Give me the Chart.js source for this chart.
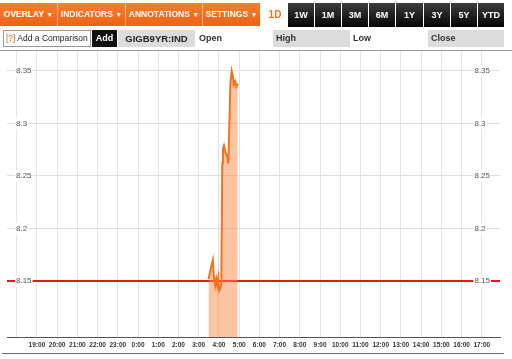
<!DOCTYPE html>
<html>
<head>
<meta charset="utf-8">
<script src="https://cdn.jsdelivr.net/npm/chart.js@4.4.0/dist/chart.umd.min.js"></script>
<style>
  body { margin:0; width:512px; height:359px; overflow:hidden; background:#fff; position:relative;
         font-family:"Liberation Sans", Arial, sans-serif; }
  canvas { position:absolute; left:0; top:0; }
  .ui { position:absolute; z-index:2; box-sizing:border-box; white-space:nowrap; }
  .o { top:3px; height:23px; line-height:23px; background:linear-gradient(#f87d30,#ee6214);
       color:#fff; font-weight:bold; font-size:8.5px; text-align:center; border-right:1px solid #f9b58d; }
  .o span { font-size:7px; }
  .k { top:3px; height:24px; line-height:24px; background:linear-gradient(#3c3c3c,#050505);
       color:#fff; font-weight:bold; font-size:9px; text-align:center; }
  .r2 { top:30px; height:17px; line-height:17px; font-size:9px; font-weight:bold; color:#333; }
  .g { background:#dcdcdc; }
  .line { position:absolute; z-index:2; height:1px; background:#777; }
</style>
</head>
<body>
<div class="ui o" style="left:0;width:58px">OVERLAY <span>▼</span></div>
<div class="ui o" style="left:58px;width:68px">INDICATORS <span>▼</span></div>
<div class="ui o" style="left:126px;width:77px">ANNOTATIONS <span>▼</span></div>
<div class="ui o" style="left:203px;width:57px;border-right:none">SETTINGS <span>▼</span></div>
<div class="ui" style="left:262px;top:3px;width:26px;height:23px;line-height:23px;text-align:center;color:#f0731e;font-size:10px;font-weight:bold">1D</div>
<div class="ui k" style="left:288px;width:26px">1W</div>
<div class="ui k" style="left:315px;width:26px">1M</div>
<div class="ui k" style="left:342px;width:26px">3M</div>
<div class="ui k" style="left:369px;width:26px">6M</div>
<div class="ui k" style="left:396px;width:27px">1Y</div>
<div class="ui k" style="left:424px;width:26px">3Y</div>
<div class="ui k" style="left:451px;width:26px">5Y</div>
<div class="ui k" style="left:478px;width:26px">YTD</div>

<div class="ui r2" style="left:3px;width:88px;border:1px solid #999;font-weight:normal;font-size:8.5px;line-height:15px;padding-left:2px;color:#222">
  <span style="color:#e0691e">[?]</span> Add a Comparison</div>
<div class="ui r2" style="left:92px;width:25px;background:#111;color:#fff;text-align:center">Add</div>
<div class="ui r2 g" style="left:118px;width:77px;text-align:center;font-size:9.5px;color:#222">GIGB9YR:IND</div>
<div class="ui r2" style="left:199px;width:50px">Open</div>
<div class="ui r2 g" style="left:273px;width:77px;padding-left:3px">High</div>
<div class="ui r2" style="left:353px;width:50px">Low</div>
<div class="ui r2 g" style="left:428px;width:76px;padding-left:3px">Close</div>

<div class="line" style="left:0;top:50px;width:512px;background:#999"></div>
<div class="line" style="left:2px;top:353px;width:502px;background:#666"></div>

<canvas id="chartCanvas" width="512" height="359"></canvas>

<script>
// x axis: hours counted from 18:00 of the previous day
const hourLabels = ["", "19:00", "20:00", "21:00", "22:00", "23:00", "0:00", "1:00", "2:00", "3:00",
  "4:00", "5:00", "6:00", "7:00", "8:00", "9:00", "10:00", "11:00", "12:00", "13:00",
  "14:00", "15:00", "16:00", "17:00"];
const yTickValues = [8.15, 8.2, 8.25, 8.3, 8.35];

// GIGB9YR:IND intraday yield
const times = ["03:29", "03:38", "03:42", "03:45", "03:49", "03:52", "03:55", "03:58", "04:01", "04:04",
  "04:07", "04:10", "04:12", "04:15", "04:20", "04:25", "04:28", "04:31", "04:34", "04:38",
  "04:41", "04:44", "04:48", "04:52", "04:56"];
const yields = [8.152, 8.165, 8.170, 8.154, 8.146, 8.152, 8.146, 8.153, 8.141, 8.143,
  8.146, 8.262, 8.276, 8.279, 8.272, 8.268, 8.262, 8.300, 8.338, 8.350,
  8.346, 8.337, 8.340, 8.335, 8.338];
const prevClose = 8.15;

const xMin = -0.48, xMax = 23.9;
const yMin = 8.0967, yMax = 8.369;

function toPos(t) {
  const [h, m] = t.split(":").map(Number);
  let v = h + m / 60 - 18;
  if (v < 0) v += 24;
  return v;
}

const linePoints = times.map((t, i) => ({ x: toPos(t), y: yields[i] }));
const closePoints = [{ x: xMin, y: prevClose }, { x: xMax, y: prevClose }];

const yTicks = s => { s.ticks = yTickValues.map(v => ({ value: v })); };
const labelFont = { family: "Liberation Sans", size: 8 };

new Chart(document.getElementById("chartCanvas"), {
  type: "line",
  data: {
    datasets: [{
      data: linePoints,
      borderColor: "#f0741f",
      borderWidth: 2,
      backgroundColor: "rgba(248,140,70,0.5)",
      fill: "start",
      pointRadius: 0,
      tension: 0,
      order: 0
    }, {
      data: closePoints,
      borderColor: "#d91c1c",
      borderWidth: 2,
      pointRadius: 0,
      fill: false,
      order: 1
    }]
  },
  options: {
    responsive: false,
    animation: false,
    layout: { padding: { top: 51, left: 7, right: 12, bottom: 0 } },
    plugins: { legend: { display: false }, tooltip: { enabled: false } },
    scales: {
      x: {
        type: "linear", min: xMin, max: xMax,
        afterBuildTicks: s => { s.ticks = hourLabels.map((l, i) => ({ value: i })); },
        afterFit: s => { s.height = 22; },
        grid: { color: "#e4e4e4", drawTicks: false },
        border: { display: true, color: "#555" },
        ticks: {
          callback: (v, i) => hourLabels[i],
          autoSkip: false, maxRotation: 0, padding: 4, color: "#333",
          font: { family: "Liberation Sans", size: 6.5, weight: "bold" }
        }
      },
      y: {
        type: "linear", min: yMin, max: yMax,
        afterBuildTicks: yTicks,
        afterFit: s => { s.width = 0; },
        grid: { color: "#e0e0e0", drawTicks: false },
        border: { display: false },
        ticks: { display: false }
      },
      yl: {
        type: "linear", position: "left", min: yMin, max: yMax,
        afterBuildTicks: yTicks,
        afterFit: s => { s.width = 0; },
        grid: { display: false, drawTicks: false },
        border: { display: false },
        ticks: {
          z: 1, mirror: true, padding: 9, showLabelBackdrop: true, backdropColor: "#fff",
          backdropPadding: 1, color: "#555", font: labelFont, callback: v => String(v)
        }
      },
      yr: {
        type: "linear", position: "right", min: yMin, max: yMax,
        afterBuildTicks: yTicks,
        afterFit: s => { s.width = 0; },
        grid: { display: false, drawTicks: false },
        border: { display: false },
        ticks: {
          z: 1, mirror: true, crossAlign: "far", padding: -10, showLabelBackdrop: true, backdropColor: "#fff",
          backdropPadding: 1, color: "#555", font: labelFont, callback: v => String(v)
        }
      }
    }
  }
});
</script>
</body>
</html>
